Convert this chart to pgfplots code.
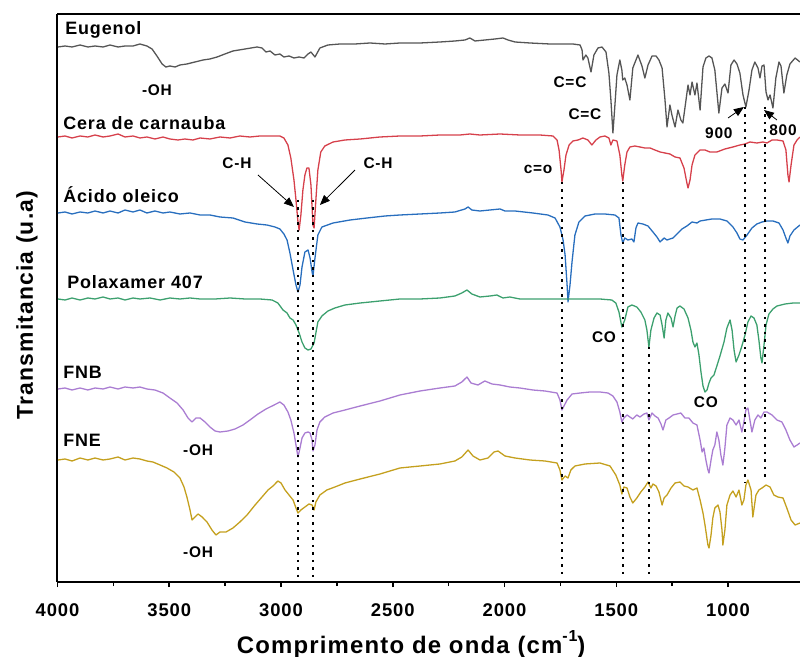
\documentclass[border=0pt]{standalone}
\usepackage{fontspec}
\setmainfont{Liberation Sans}
\newfontfamily\lab{Liberation Sans}[LetterSpace=5]
\usepackage{pgfplots}
\pgfplotsset{compat=1.18}
\usetikzlibrary{arrows.meta}
\definecolor{cEug}{RGB}{85,85,85}
\definecolor{cCar}{RGB}{214,64,75}
\definecolor{cOle}{RGB}{40,110,190}
\definecolor{cPol}{RGB}{60,160,110}
\definecolor{cFNB}{RGB}{170,125,210}
\definecolor{cFNE}{RGB}{196,160,30}
\newcommand\nm{\lab\bfseries\fontsize{18}{20}\selectfont}
\newcommand\an{\lab\bfseries\fontsize{15.5}{17}\selectfont}
\begin{document}
\begin{tikzpicture}
\begin{axis}[name=ax, scale only axis, width=742.5bp, height=568bp,
 x dir=reverse, xmin=678, xmax=4000, ymin=18, ymax=586,
 axis x line*=bottom, axis y line*=left, axis line style={line width=2pt},
 ytick=\empty, xtick={1000,1500,...,4000}, minor x tick num=1,
 tick align=outside, major tick length=5bp, minor tick length=4bp,
 every tick/.style={line width=1.5pt, black},
 /pgf/number format/assume math mode=true, /pgf/number format/1000 sep={},
 xticklabel style={font=\lab\bfseries\fontsize{18.5}{20}\selectfont, anchor=base, yshift=-29bp},
 clip mode=individual,
 every axis plot post/.append style={line width=1.3pt, mark=none, line join=round},
]
% Eugenol
\addplot[cEug] coordinates {(3998,553)(3966,554)(3935,553)(3899,555)(3864,553)(3832,554)(3796,553)(3765,555)(3729,553)(3698,554)(3662,554)(3631,556)(3600,554)(3577,551)(3555,544)(3532,536)(3515,533)(3497,534)(3474,533)(3452,535)(3421,536)(3385,538)(3349,540)(3318,541)(3286,543)(3251,546)(3215,549)(3161,551)(3107,553)(3085,552)(3067,548)(3049,549)(3027,545)(3005,546)(2987,543)(2964,544)(2942,542)(2919,543)(2897,542)(2879,546)(2866,548)(2848,543)(2826,552)(2790,555)(2736,556)(2669,556)(2602,557)(2535,556)(2468,557)(2378,557)(2289,558)(2222,559)(2177,560)(2155,562)(2132,559)(2088,560)(2043,561)(2007,562)(1984,560)(1953,558)(1886,557)(1797,556)(1694,556)(1662,555)(1653,550)(1649,540)(1636,545)(1627,542)(1613,528)(1600,545)(1582,552)(1564,553)(1546,548)(1533,527)(1524,500)(1515,467)(1506,495)(1497,525)(1484,540)(1475,530)(1471,520)(1462,522)(1452,515)(1439,500)(1426,532)(1403,545)(1385,534)(1372,522)(1358,535)(1340,544)(1322,544)(1309,540)(1295,532)(1282,500)(1273,473)(1260,495)(1251,485)(1237,473)(1224,490)(1211,480)(1202,477)(1188,500)(1179,515)(1170,505)(1161,518)(1148,505)(1139,517)(1125,490)(1112,533)(1099,542)(1085,544)(1072,542)(1059,530)(1041,487)(1027,512)(1014,516)(1000,507)(987,535)(973,540)(960,536)(947,527)(933,505)(920,493)(906,510)(893,530)(880,538)(866,532)(857,522)(848,534)(839,535)(830,508)(821,500)(812,505)(799,492)(786,522)(772,538)(763,534)(750,507)(737,525)(723,536)(700,542)(678,538)};
% Cera de carnauba
\addplot[cCar] coordinates {(3998,463)(3966,464)(3935,462)(3899,464)(3864,463)(3832,465)(3796,463)(3765,464)(3729,466)(3698,463)(3662,464)(3631,462)(3600,463)(3564,461)(3528,463)(3497,461)(3461,460)(3430,461)(3394,460)(3362,462)(3318,461)(3273,463)(3228,462)(3184,464)(3139,463)(3094,464)(3049,464)(3005,464)(2987,462)(2969,455)(2956,442)(2942,420)(2933,400)(2924,378)(2919,370)(2911,385)(2902,410)(2893,425)(2884,432)(2875,432)(2866,415)(2857,375)(2852,372)(2844,400)(2835,430)(2822,448)(2804,454)(2767,458)(2714,460)(2646,461)(2557,463)(2468,464)(2378,464)(2289,465)(2199,465)(2155,466)(2110,465)(2020,466)(1931,465)(1842,465)(1783,464)(1765,460)(1756,450)(1747,430)(1743,418)(1734,430)(1725,445)(1711,455)(1694,459)(1671,460)(1649,462)(1627,460)(1609,455)(1591,460)(1573,463)(1551,464)(1533,462)(1524,455)(1515,460)(1497,459)(1484,445)(1475,425)(1471,419)(1462,435)(1452,448)(1439,453)(1417,454)(1394,453)(1372,452)(1349,452)(1327,450)(1304,448)(1282,447)(1260,446)(1237,443)(1215,442)(1197,432)(1184,417)(1179,412)(1170,420)(1161,435)(1148,445)(1125,450)(1103,450)(1081,448)(1050,448)(1014,451)(978,453)(947,455)(924,456)(902,458)(871,457)(844,458)(826,457)(803,460)(781,460)(754,459)(741,450)(732,425)(727,418)(718,435)(705,455)(691,460)(678,463)};
% Acido oleico
\addplot[cOle] coordinates {(3998,387)(3966,388)(3935,386)(3899,388)(3864,387)(3832,389)(3796,387)(3765,389)(3729,387)(3698,390)(3662,388)(3631,390)(3600,387)(3564,389)(3528,387)(3497,388)(3452,386)(3407,387)(3362,385)(3318,385)(3273,383)(3215,382)(3161,378)(3107,376)(3063,375)(3027,373)(3005,371)(2987,366)(2973,360)(2960,347)(2946,330)(2933,315)(2924,308)(2915,315)(2906,333)(2893,348)(2879,350)(2870,342)(2861,328)(2857,324)(2848,342)(2835,365)(2817,373)(2767,377)(2691,380)(2615,382)(2535,384)(2468,385)(2378,386)(2289,387)(2222,388)(2177,391)(2163,393)(2146,390)(2110,389)(2065,390)(2020,391)(1998,389)(1953,389)(1873,387)(1806,385)(1774,382)(1752,373)(1738,360)(1729,345)(1720,315)(1716,298)(1707,315)(1698,338)(1685,365)(1667,378)(1640,384)(1595,386)(1551,386)(1506,385)(1488,382)(1479,365)(1471,357)(1462,362)(1448,360)(1430,361)(1421,358)(1412,372)(1403,377)(1381,376)(1358,374)(1336,368)(1318,363)(1304,358)(1295,360)(1286,362)(1273,360)(1260,361)(1246,362)(1228,366)(1206,371)(1184,374)(1161,378)(1139,377)(1125,379)(1099,380)(1072,381)(1036,381)(1005,379)(978,373)(960,367)(947,361)(933,360)(915,365)(893,372)(871,376)(848,378)(826,379)(799,379)(772,377)(754,370)(741,362)(732,357)(723,364)(705,370)(678,375)};
% Polaxamer 407
\addplot[cPol] coordinates {(3998,301)(3966,300)(3935,302)(3899,300)(3864,302)(3832,301)(3796,303)(3765,301)(3729,302)(3698,300)(3662,302)(3631,301)(3586,302)(3541,300)(3497,302)(3452,301)(3407,302)(3362,301)(3295,301)(3228,302)(3161,301)(3094,301)(3040,300)(3014,297)(2991,290)(2973,287)(2960,282)(2946,280)(2933,275)(2919,267)(2906,258)(2893,252)(2879,250)(2866,251)(2852,257)(2844,267)(2835,278)(2817,284)(2790,289)(2759,292)(2714,295)(2646,297)(2557,299)(2468,301)(2378,301)(2289,302)(2222,304)(2191,307)(2168,310)(2146,306)(2110,303)(2065,304)(2034,305)(2007,302)(1976,303)(1931,301)(1842,301)(1752,301)(1662,301)(1573,301)(1520,300)(1502,297)(1488,288)(1475,273)(1462,280)(1448,293)(1430,295)(1408,293)(1390,288)(1372,280)(1363,270)(1354,253)(1345,270)(1331,282)(1318,287)(1304,285)(1295,275)(1286,262)(1278,280)(1269,287)(1255,282)(1246,273)(1237,284)(1228,292)(1215,294)(1197,291)(1179,282)(1166,270)(1157,258)(1148,253)(1139,257)(1130,245)(1121,228)(1112,214)(1103,208)(1094,210)(1085,217)(1076,222)(1063,225)(1050,234)(1036,244)(1018,258)(1005,272)(991,280)(982,270)(973,250)(964,238)(951,245)(938,254)(924,265)(911,278)(897,284)(884,282)(871,275)(862,260)(853,242)(848,237)(839,255)(830,275)(817,286)(799,291)(781,294)(745,296)(709,297)(678,297)};
% FNB
\addplot[cFNB] coordinates {(3998,211)(3966,212)(3935,210)(3899,212)(3864,210)(3832,212)(3796,211)(3765,213)(3729,211)(3698,213)(3662,212)(3631,213)(3600,211)(3564,210)(3528,207)(3497,202)(3465,197)(3438,190)(3416,182)(3398,178)(3380,182)(3362,182)(3340,178)(3318,173)(3295,169)(3273,168)(3237,169)(3206,171)(3170,175)(3139,180)(3103,186)(3067,191)(3031,195)(3005,198)(2987,195)(2969,188)(2956,180)(2942,167)(2933,155)(2924,143)(2915,152)(2906,162)(2893,167)(2879,168)(2870,167)(2861,160)(2857,149)(2848,155)(2839,170)(2826,178)(2804,183)(2767,187)(2714,190)(2646,194)(2557,199)(2468,205)(2378,209)(2289,212)(2222,214)(2191,218)(2168,223)(2150,217)(2119,215)(2088,219)(2056,216)(2020,215)(1976,213)(1931,212)(1873,210)(1819,209)(1765,207)(1752,200)(1743,190)(1734,194)(1720,200)(1698,206)(1662,207)(1618,208)(1573,208)(1537,207)(1515,204)(1497,198)(1484,188)(1475,178)(1466,182)(1452,185)(1439,183)(1426,181)(1408,185)(1394,183)(1376,186)(1363,187)(1354,180)(1340,187)(1327,184)(1313,182)(1300,176)(1291,170)(1278,180)(1264,182)(1246,185)(1228,186)(1211,187)(1193,182)(1175,182)(1157,177)(1139,175)(1125,160)(1116,148)(1108,152)(1099,140)(1090,130)(1085,127)(1076,140)(1068,150)(1059,155)(1050,168)(1041,160)(1032,145)(1023,135)(1014,152)(1005,175)(991,182)(978,180)(964,175)(951,180)(938,168)(929,178)(920,190)(911,192)(902,180)(893,168)(880,180)(866,185)(853,182)(839,188)(826,188)(803,185)(781,180)(759,178)(741,170)(723,160)(705,153)(691,155)(678,157)};
% FNE
\addplot[cFNE] coordinates {(3998,140)(3966,141)(3935,139)(3899,142)(3864,140)(3832,142)(3796,140)(3765,141)(3729,143)(3698,140)(3662,142)(3631,141)(3600,139)(3573,138)(3541,135)(3510,132)(3479,128)(3452,122)(3434,113)(3421,103)(3407,90)(3398,80)(3385,83)(3371,86)(3353,83)(3331,78)(3309,70)(3291,65)(3273,68)(3246,68)(3215,72)(3184,78)(3152,85)(3116,95)(3085,103)(3058,110)(3036,114)(3014,119)(3000,117)(2982,110)(2964,105)(2946,100)(2933,92)(2924,87)(2911,90)(2893,93)(2875,96)(2861,95)(2852,90)(2844,98)(2826,105)(2795,110)(2759,113)(2714,117)(2646,121)(2557,126)(2468,132)(2378,134)(2289,136)(2222,139)(2191,143)(2163,150)(2141,144)(2110,140)(2074,142)(2047,148)(2029,149)(1998,144)(1953,142)(1886,140)(1819,139)(1765,137)(1752,130)(1743,120)(1729,124)(1716,122)(1703,130)(1685,134)(1640,136)(1573,137)(1528,134)(1502,125)(1484,115)(1475,106)(1466,113)(1452,112)(1439,103)(1426,97)(1408,102)(1390,108)(1372,113)(1358,118)(1345,112)(1336,116)(1322,114)(1309,108)(1295,95)(1286,102)(1273,105)(1255,112)(1237,117)(1215,118)(1197,114)(1179,113)(1157,110)(1139,112)(1125,100)(1112,87)(1103,75)(1090,55)(1085,52)(1076,65)(1068,82)(1059,92)(1045,95)(1036,88)(1027,70)(1023,55)(1014,70)(1005,95)(991,105)(978,109)(964,103)(951,110)(938,95)(929,100)(920,115)(911,120)(897,110)(889,83)(875,105)(862,110)(848,112)(830,115)(812,113)(795,105)(777,103)(754,102)(737,92)(718,80)(700,75)(678,77)};
% dotted guide lines
\begin{scope}[line width=2pt, dash pattern=on 2.5bp off 5bp]
\draw (axis cs:2924,400) -- (axis cs:2924,20);
\draw (axis cs:2857,400) -- (axis cs:2857,20);
\draw (axis cs:1743,418) -- (axis cs:1743,22);
\draw (axis cs:1471,418) -- (axis cs:1471,22);
\draw (axis cs:1354,253) -- (axis cs:1354,22);
\draw (axis cs:924,493) -- (axis cs:924,117);
\draw (axis cs:835,493) -- (axis cs:835,123);
\end{scope}
% arrows
\begin{scope}[line width=0.8pt, -{Triangle[length=10bp,width=8bp]}]
\draw (axis cs:3103,425) -- (axis cs:2942,393);
\draw (axis cs:2669,430) -- (axis cs:2826,395);
\draw (axis cs:1000,482) -- (axis cs:929,493);
\draw (axis cs:781,480) -- (axis cs:839,490);
\end{scope}
% labels
\node[font=\nm, anchor=west, inner sep=0pt] at (axis cs:3966,570) {Eugenol};
\node[font=\nm, anchor=west, inner sep=0pt] at (axis cs:3975,477) {Cera de carnauba};
\node[font=\nm, anchor=west, inner sep=0pt] at (axis cs:3975,405) {Ácido oleico};
\node[font=\nm, anchor=west, inner sep=0pt] at (axis cs:3957,318) {Polaxamer 407};
\node[font=\nm, anchor=west, inner sep=0pt] at (axis cs:3975,228) {FNB};
\node[font=\nm, anchor=west, inner sep=0pt] at (axis cs:3975,160) {FNE};
\node[font=\an] at (axis cs:3555,510) {-OH};
\node[font=\an] at (axis cs:3371,150) {-OH};
\node[font=\an] at (axis cs:3371,48) {-OH};
\node[font=\an] at (axis cs:3197,437) {C-H};
\node[font=\an] at (axis cs:2566,437) {C-H};
\node[font=\an] at (axis cs:1707,518) {C=C};
\node[font=\an] at (axis cs:1640,486) {C=C};
\node[font=\an] at (axis cs:1850,431) {c=o};
\node[font=\an] at (axis cs:1555,263) {CO};
\node[font=\an] at (axis cs:1099,198) {CO};
\node[font=\an] at (axis cs:1041,467) {900};
\node[font=\an] at (axis cs:754,470) {800};
\node[font=\lab\bfseries\fontsize{24}{26}\selectfont, anchor=base] at (axis cs:2418,-53) {Comprimento de onda (cm\raisebox{0.5em}{\fontsize{16}{16}\selectfont -1})};
\node[font=\lab\bfseries\fontsize{23}{25}\selectfont, anchor=base, rotate=90] at (axis cs:4110,295) {Transmitancia (u.a)};
\draw[line width=2pt] (rel axis cs:0,1) -- (rel axis cs:1,1);
\end{axis}
\pgfresetboundingbox
\path[use as bounding box] ([xshift=-57.5bp,yshift=-75bp]ax.south west) rectangle ([yshift=14bp]ax.north east);
\end{tikzpicture}
\end{document}
